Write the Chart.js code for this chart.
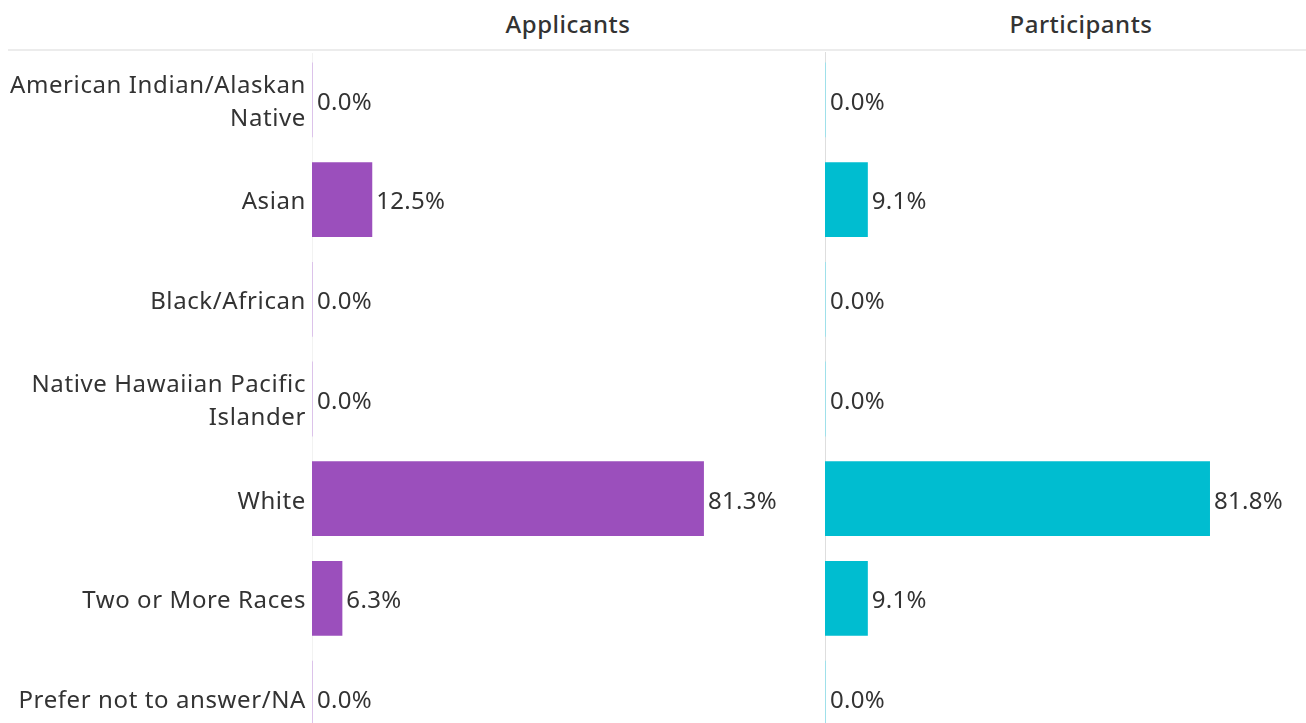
<!DOCTYPE html>
<html>
<head>
<meta charset="utf-8">
<script src="https://cdn.jsdelivr.net/npm/chart.js@4.4.1/dist/chart.umd.min.js"></script>
<style>
  html, body { margin:0; padding:0; background:#fff; width:1306px; height:723px; overflow:hidden; }
  .wrap { position:absolute; top:0; }
  .hdr { position:absolute; top:7px; font-family:"Noto Sans", sans-serif; font-size:24px; letter-spacing:0.5px; color:#333; font-weight:500; transform:translateX(-50%); white-space:nowrap; }
  .hline { position:absolute; left:8px; top:49px; width:1298px; height:2px; background:#ececec; }
</style>
</head>
<body>
<div class="hline"></div>
<div class="hdr" style="left:568px">Applicants</div>
<div class="hdr" style="left:1081px">Participants</div>
<div class="wrap" style="left:0px;width:823px;height:760px"><canvas id="c1"></canvas></div>
<div class="wrap" style="left:825px;width:481px;height:760px"><canvas id="c2"></canvas></div>
<script>
const categories = [
  ["American Indian/Alaskan", "Native"],
  "Asian",
  "Black/African",
  ["Native Hawaiian Pacific", "Islander"],
  "White",
  "Two or More Races",
  "Prefer not to answer/NA"
];
const applicants = [0.0, 12.5, 0.0, 0.0, 81.3, 6.3, 0.0];
const participants = [0.0, 9.1, 0.0, 0.0, 81.8, 9.1, 0.0];
const panelTitles = ["Applicants", "Participants"];

const FONT = '"Noto Sans", sans-serif';
const TXT = '#333333';

// shifts axis labels a few px down to match the reference baseline
const spacingPlugin = {
  id: 'spacing',
  beforeDraw(chart) { chart.ctx.save(); chart.ctx.letterSpacing = '0.6px'; chart.ctx.translate(0, 3); },
  beforeDatasetsDraw(chart) { chart.ctx.restore(); }
};

const labelPlugin = {
  id: 'valLabels',
  afterDatasetsDraw(chart) {
    const ctx = chart.ctx;
    const meta = chart.getDatasetMeta(0);
    const data = chart.data.datasets[0].data;
    ctx.save();
    ctx.letterSpacing = '0.3px';
    ctx.font = '24px ' + FONT;
    ctx.fillStyle = TXT;
    ctx.textBaseline = 'middle';
    ctx.textAlign = 'left';
    meta.data.forEach((bar, i) => {
      const x = Math.max(bar.x, bar.base + 1) + 4;
      ctx.fillText(data[i].toFixed(1) + '%', x, bar.y + 3);
    });
    ctx.restore();
  }
};

function makeChart(id, values, color, zeroColor, max, showLabels, borderColor, borderWidth) {
  return new Chart(document.getElementById(id), {
    type: 'bar',
    data: {
      labels: categories,
      datasets: [{
        data: values,
        backgroundColor: (c) => (values[c.dataIndex] === 0 ? zeroColor : color),
        borderWidth: 0,
        barPercentage: 0.75,
        categoryPercentage: 1.0,
        minBarLength: 1
      }]
    },
    options: {
      indexAxis: 'y',
      responsive: true,
      maintainAspectRatio: false,
      animation: false,
      layout: { padding: { top: 50, bottom: 12, left: 0, right: 0 } },
      plugins: { legend: { display: false }, tooltip: { enabled: false }, title: { display: false } },
      scales: {
        x: { display: false, min: 0, max: max },
        y: {
          display: true,
          grid: { display: false, drawTicks: false },
          border: { display: true, color: borderColor, width: borderWidth },
          ticks: {
            display: showLabels,
            autoSkip: false,
            padding: 6,
            color: TXT,
            font: { family: FONT, size: 24, lineHeight: 1.375 }
          },
          afterFit(scale) {
            scale.width = showLabels ? 312 : 0;
            scale.paddingTop = 0;
            scale.paddingBottom = 0;
          }
        }
      }
    },
    plugins: [spacingPlugin, labelPlugin]
  });
}

makeChart('c1', applicants, '#9b4fbc', '#dcc3ea', 106, true, '#f2f2f2', 1);
makeChart('c2', participants, '#00bdd0', '#9fe0ea', 102.2, false, '#dedede', 2);
</script>
</body>
</html>
